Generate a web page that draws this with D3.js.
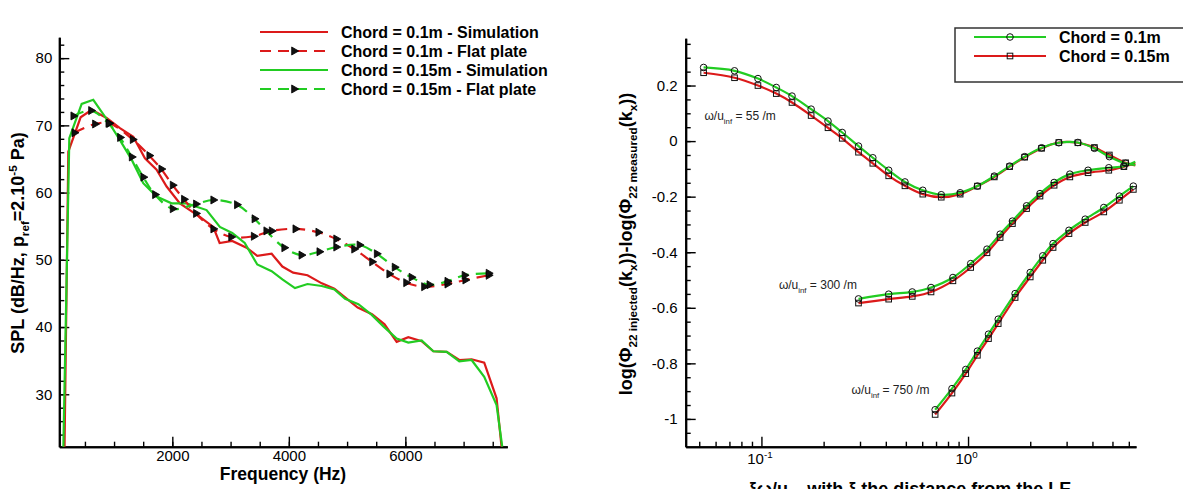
<!DOCTYPE html>
<html>
<head>
<meta charset="utf-8">
<script src="https://cdn.jsdelivr.net/npm/d3@7"></script>
<style>
  body { margin: 0; background: #fff; }
  text { font-family: "Liberation Sans", Arial, Helvetica, sans-serif; }
</style>
</head>
<body>
<div id="chart"></div>
<script>
// ---------- left panel: SPL spectra ----------
var freqSim01  = [150, 215, 426, 615, 872, 1101, 1330, 1530, 1730, 1902, 2130, 2473, 2702, 2812, 3028, 3274, 3458, 3705, 3889, 4074, 4320, 4566, 4782, 4966, 5182, 5428, 5643, 5851, 6051, 6280, 6480, 6709, 6926, 7137, 7354, 7566, 7651];
var splSim01   = [22.2, 66.1, 71.2, 72.3, 71.1, 69.6, 68.3, 65.1, 63.4, 60.9, 58.4, 56.4, 54.9, 52.5, 52.8, 51.8, 50.6, 50.9, 49.0, 48.1, 47.7, 46.5, 45.7, 44.4, 42.9, 41.9, 40.4, 37.8, 38.5, 37.9, 36.4, 36.3, 35.1, 35.2, 34.7, 29.4, 22.2];
var freqSim015 = [130, 232, 444, 643, 884, 1101, 1302, 1501, 1730, 1987, 2245, 2588, 2816, 3028, 3243, 3458, 3705, 3889, 4105, 4320, 4566, 4782, 4966, 5194, 5423, 5623, 5851, 6051, 6280, 6480, 6709, 6926, 7137, 7354, 7566, 7663];
var splSim015  = [22.2, 68.1, 73.2, 73.8, 70.8, 67.8, 64.9, 61.4, 59.4, 58.4, 58.4, 57.4, 54.9, 54.0, 52.5, 49.3, 48.3, 47.1, 45.8, 46.4, 46.1, 45.6, 44.2, 43.4, 41.8, 40.1, 38.3, 37.7, 38.0, 36.4, 36.3, 34.9, 35.1, 32.6, 28.4, 22.2];
var freqFlat01 = [318, 672, 918, 1319, 1604, 1810, 2005, 2199, 2405, 2702, 3009, 3397, 3705, 4111, 4505, 4812, 5120, 5428, 5723, 6012, 6320, 6720, 7028, 7428];
var splFlat01  = [68.9, 70.2, 70.3, 67.9, 65.5, 63.5, 61.1, 59.0, 56.9, 54.6, 53.4, 53.5, 54.3, 54.6, 54.1, 53.1, 51.6, 49.7, 47.9, 46.6, 46.0, 46.4, 47.0, 47.7];
var freqFlat015 = [300, 604, 901, 1101, 1302, 1501, 1702, 2005, 2405, 2702, 3108, 3409, 3612, 3920, 4215, 4523, 4812, 5212, 5508, 5815, 6105, 6412, 6720, 7015, 7428];
var splFlat015  = [71.4, 72.2, 70.3, 68.2, 65.3, 62.3, 59.7, 57.6, 58.3, 58.9, 58.2, 56.1, 54.3, 51.8, 50.7, 51.2, 51.9, 52.2, 50.9, 48.9, 47.4, 46.3, 46.8, 47.7, 48.0];
var leftLegend = ["Chord = 0.1m - Simulation", "Chord = 0.1m - Flat plate", "Chord = 0.15m - Simulation", "Chord = 0.15m - Flat plate"];
var leftXTicks = [2000, 4000, 6000];
var leftYTicks = [30, 40, 50, 60, 70, 80];

// ---------- right panel: log ratio vs xi*omega/u ----------
var xi55   = [0.0525, 0.0741, 0.0962, 0.118, 0.1406, 0.174, 0.210, 0.246, 0.295, 0.346, 0.413, 0.495, 0.604, 0.742, 0.916, 1.11, 1.34, 1.59, 1.88, 2.27, 2.75, 3.40, 4.09, 4.83, 5.79, 6.45];
var c01_55  = [0.265, 0.253, 0.225, 0.193, 0.162, 0.115, 0.072, 0.031, -0.018, -0.060, -0.105, -0.147, -0.177, -0.193, -0.186, -0.162, -0.126, -0.090, -0.056, -0.024, -0.006, -0.005, -0.026, -0.056, -0.080, -0.086];
var c015_55 = [0.246, 0.228, 0.200, 0.171, 0.139, 0.092, 0.048, 0.010, -0.040, -0.080, -0.125, -0.161, -0.191, -0.202, -0.191, -0.162, -0.129, -0.092, -0.058, -0.026, -0.005, -0.006, -0.023, -0.050, -0.078, -0.088];
var xi300   = [0.295, 0.413, 0.537, 0.662, 0.845, 1.03, 1.235, 1.43, 1.64, 1.92, 2.23, 2.61, 3.11, 3.81, 4.80, 5.68, 6.45];
var c01_300  = [-0.568, -0.551, -0.543, -0.527, -0.491, -0.441, -0.389, -0.335, -0.288, -0.233, -0.189, -0.149, -0.119, -0.105, -0.096, -0.090, -0.074];
var c015_300 = [-0.583, -0.569, -0.559, -0.543, -0.503, -0.455, -0.402, -0.347, -0.297, -0.243, -0.198, -0.159, -0.129, -0.114, -0.105, -0.092, -0.080];
var xi750   = [0.693, 0.836, 0.975, 1.11, 1.256, 1.40, 1.69, 2.00, 2.30, 2.58, 3.08, 3.69, 4.54, 5.40, 6.31];
var c01_750  = [-0.967, -0.891, -0.822, -0.756, -0.695, -0.641, -0.549, -0.473, -0.413, -0.369, -0.321, -0.281, -0.239, -0.198, -0.162];
var c015_750 = [-0.984, -0.907, -0.837, -0.771, -0.711, -0.657, -0.563, -0.489, -0.429, -0.383, -0.333, -0.293, -0.255, -0.213, -0.174];
var rightLegend = ["Chord = 0.1m", "Chord = 0.15m"];
var rightYTicks = [-1, -0.8, -0.6, -0.4, -0.2, 0, 0.2];
var rightXTicks = [0.1, 1];
var omegaLabels = ["55", "300", "750"];
var omegaLabelPos = [[0.053, 0.075], [0.1215, -0.533], [0.273, -0.911]];

var RED = "#dc1a1a", GREEN = "#22cc22";

var svg = d3.select("#chart").append("svg")
    .attr("width", 1183)
    .attr("height", 489);

// small helper for sub/superscripts
function rich(sel, parts, fs) {
  var shift = 0;
  parts.forEach(function(p) {
    var target = p[1] === "sub" ? fs * 0.3 : (p[1] === "sup" ? -fs * 0.4 : 0);
    var t = sel.append("tspan").text(p[0]).attr("dy", target - shift);
    if (p[1]) t.attr("font-size", fs * 0.65);
    shift = target;
  });
}

function styleAxis(g, fs) {
  g.attr("font-size", fs).attr("font-family", "Liberation Sans, Arial, sans-serif");
  g.select(".domain").attr("stroke-width", 2).attr("stroke", "#000");
  g.selectAll(".tick line").attr("stroke-width", 1.4).attr("stroke", "#000");
  g.selectAll(".tick text").attr("fill", "#000");
}

// =============== LEFT PANEL ===============
var xL = d3.scaleLinear().domain([60, 7750]).range([59.3, 507.3]);
var yL = d3.scaleLinear().domain([22.2, 83.1]).range([446.7, 37.3]);

// minor ticks
svg.append("g").attr("transform", "translate(0,446.7)")
  .call(d3.axisBottom(xL).tickValues(d3.range(500, 7600, 500)).tickSize(-5).tickSizeOuter(0).tickFormat(""))
  .call(styleAxis, 15);
svg.append("g").attr("transform", "translate(59.3,0)")
  .call(d3.axisLeft(yL).tickValues(d3.range(24, 83, 2)).tickSize(-5).tickSizeOuter(0).tickFormat(""))
  .call(styleAxis, 15);
// major ticks
svg.append("g").attr("transform", "translate(0,446.7)")
  .call(d3.axisBottom(xL).tickValues(leftXTicks).tickSize(-10).tickSizeOuter(0).tickPadding(4).tickFormat(d3.format("d")))
  .call(styleAxis, 15);
svg.append("g").attr("transform", "translate(59.3,0)")
  .call(d3.axisLeft(yL).tickValues(leftYTicks).tickSize(-10).tickSizeOuter(0).tickPadding(7).tickFormat(d3.format("d")))
  .call(styleAxis, 15);

var lineL = d3.line().x(function(d) { return xL(d[0]); }).y(function(d) { return yL(d[1]); });
var lineLs = d3.line().curve(d3.curveCatmullRom.alpha(0.5))
  .x(function(d) { return xL(d[0]); }).y(function(d) { return yL(d[1]); });

var leftSeries = [
  {f: freqSim01,  s: splSim01,  color: RED,   dash: null,   mark: false},
  {f: freqSim015, s: splSim015, color: GREEN, dash: null,   mark: false},
  {f: freqFlat01, s: splFlat01, color: RED,   dash: "11,7", mark: true},
  {f: freqFlat015, s: splFlat015, color: GREEN, dash: "11,7", mark: true}
];
var tri = d3.symbol().type(d3.symbolTriangle).size(28);

leftSeries.forEach(function(se) {
  var pts = se.f.map(function(f, i) { return [f, se.s[i]]; });
  svg.append("path")
    .attr("d", se.mark ? lineLs(pts) : lineL(pts))
    .attr("fill", "none")
    .attr("stroke", se.color)
    .attr("stroke-width", 2.2)
    .attr("stroke-dasharray", se.dash);
});
leftSeries.forEach(function(se) {
  if (!se.mark) return;
  svg.selectAll(null).data(se.f.map(function(f, i) { return [f, se.s[i]]; }))
    .enter().append("path")
    .attr("d", tri)
    .attr("transform", function(d) { return "translate(" + xL(d[0]) + "," + yL(d[1]) + ") rotate(90)"; })
    .attr("fill", "#111")
    .attr("stroke", "#000")
    .attr("stroke-width", 0.8);
});

// left legend
var legL = svg.append("g");
var legStyle = [[RED, null], [RED, "11,7"], [GREEN, null], [GREEN, "11,7"]];
leftLegend.forEach(function(name, i) {
  var y = 32 + i * 19;
  legL.append("line").attr("x1", 260).attr("x2", 328).attr("y1", y).attr("y2", y)
    .attr("stroke", legStyle[i][0]).attr("stroke-width", 2.2)
    .attr("stroke-dasharray", legStyle[i][1]);
  if (legStyle[i][1]) {
    legL.append("path").attr("d", tri)
      .attr("transform", "translate(294," + y + ") rotate(90)")
      .attr("fill", "#111").attr("stroke", "#000").attr("stroke-width", 0.8);
  }
  legL.append("text").attr("x", 341).attr("y", y + 5.5)
    .attr("font-size", 16).attr("font-weight", "bold").text(name);
});

// left titles
svg.append("text").attr("x", 283).attr("y", 480).attr("text-anchor", "middle")
  .attr("font-size", 17.5).attr("font-weight", "bold").text("Frequency (Hz)");
var tL = svg.append("text").attr("transform", "translate(24,243) rotate(-90)")
  .attr("text-anchor", "middle").attr("font-size", 18).attr("font-weight", "bold");
rich(tL, [["SPL (dB/Hz, p", ""], ["ref", "sub"], ["=2.10", ""], ["-5", "sup"], [" Pa)", ""]], 18);

// =============== RIGHT PANEL ===============
var xR = d3.scaleLog().domain([0.043, 6.5]).range([685.7, 1136]);
var yR = d3.scaleLinear().domain([-1.1, 0.37]).range([446.7, 38.3]);

var minorX = [0.05, 0.06, 0.07, 0.08, 0.09, 0.2, 0.3, 0.4, 0.5, 0.6, 0.7, 0.8, 0.9, 2, 3, 4, 5, 6];
svg.append("g").attr("transform", "translate(0,446.7)")
  .call(d3.axisBottom(xR).tickValues(minorX).tickSize(-5).tickSizeOuter(0).tickFormat(""))
  .call(styleAxis, 15);
svg.append("g").attr("transform", "translate(685.7,0)")
  .call(d3.axisLeft(yR).tickValues(d3.range(-21, 8).map(function(k) { return k * 0.05; })).tickSize(-5).tickSizeOuter(0).tickFormat(""))
  .call(styleAxis, 15);

var gxR = svg.append("g").attr("transform", "translate(0,446.7)")
  .call(d3.axisBottom(xR).tickValues(rightXTicks).tickSize(-10).tickSizeOuter(0).tickFormat(""))
  .call(styleAxis, 15);
gxR.selectAll(".tick text").remove();
gxR.selectAll(".tick").each(function(d) {
  var t = d3.select(this).append("text").attr("y", 17).attr("x", -2)
    .attr("fill", "#000").attr("text-anchor", "middle").attr("font-size", 15);
  rich(t, [["10", ""], [String(Math.round(Math.log10(d))), "sup"]], 15);
});
svg.append("g").attr("transform", "translate(685.7,0)")
  .call(d3.axisLeft(yR).tickValues(rightYTicks).tickSize(-10).tickSizeOuter(0).tickPadding(8)
    .tickFormat(function(d) { return String(+d.toFixed(1)); }))
  .call(styleAxis, 15);

var lineR = d3.line().curve(d3.curveCatmullRom.alpha(0.5))
  .x(function(d) { return xR(d[0]); }).y(function(d) { return yR(d[1]); });

var rightSeries = [
  {x: xi55,  y: c015_55,  color: RED,   sym: "sq", tail: true},
  {x: xi300, y: c015_300, color: RED,   sym: "sq", tail: true},
  {x: xi750, y: c015_750, color: RED,   sym: "sq", tail: false},
  {x: xi55,  y: c01_55,   color: GREEN, sym: "ci", tail: true},
  {x: xi300, y: c01_300,  color: GREEN, sym: "ci", tail: true},
  {x: xi750, y: c01_750,  color: GREEN, sym: "ci", tail: false}
];
rightSeries.forEach(function(se) {
  var pts = se.x.map(function(x, i) { return [x, se.y[i]]; });
  svg.append("path").attr("d", lineR(pts)).attr("fill", "none")
    .attr("stroke", se.color).attr("stroke-width", 2.2);
});
rightSeries.forEach(function(se) {
  var pts = se.x.map(function(x, i) { return [x, se.y[i]]; });
  if (se.tail) pts = pts.slice(0, -1);
  if (se.sym === "ci") {
    svg.selectAll(null).data(pts).enter().append("circle")
      .attr("cx", function(d) { return xR(d[0]); }).attr("cy", function(d) { return yR(d[1]); })
      .attr("r", 3.3).attr("fill", "none").attr("stroke", "#111").attr("stroke-width", 1);
  } else {
    svg.selectAll(null).data(pts).enter().append("rect")
      .attr("x", function(d) { return xR(d[0]) - 2.8; }).attr("y", function(d) { return yR(d[1]) - 2.8; })
      .attr("width", 5.6).attr("height", 5.6).attr("fill", "none").attr("stroke", "#111").attr("stroke-width", 1);
  }
});

// frequency annotations
omegaLabels.forEach(function(v, i) {
  var t = svg.append("text").attr("x", xR(omegaLabelPos[i][0])).attr("y", yR(omegaLabelPos[i][1]))
    .attr("font-size", 12).attr("fill", "#222");
  rich(t, [["\u03c9/u", ""], ["inf", "sub"], [" = " + v + " /m", ""]], 12);
});

// right legend
var legR = svg.append("g");
legR.append("rect").attr("x", 955).attr("y", 28).attr("width", 260).attr("height", 54)
  .attr("fill", "#fff").attr("stroke", "#333").attr("stroke-width", 1.5);
[[GREEN, "ci"], [RED, "sq"]].forEach(function(st, i) {
  var y = 37 + i * 19;
  legR.append("line").attr("x1", 974).attr("x2", 1046).attr("y1", y).attr("y2", y)
    .attr("stroke", st[0]).attr("stroke-width", 2.2);
  if (st[1] === "ci") {
    legR.append("circle").attr("cx", 1010).attr("cy", y).attr("r", 3.3)
      .attr("fill", "none").attr("stroke", "#111").attr("stroke-width", 1);
  } else {
    legR.append("rect").attr("x", 1007.2).attr("y", y - 2.8).attr("width", 5.6).attr("height", 5.6)
      .attr("fill", "none").attr("stroke", "#111").attr("stroke-width", 1);
  }
  legR.append("text").attr("x", 1059).attr("y", y + 5.5).attr("font-size", 16)
    .attr("font-weight", "bold").text(rightLegend[i]);
});

// right titles
var tRx = svg.append("text").attr("x", 910).attr("y", 495).attr("text-anchor", "middle")
  .attr("font-size", 18).attr("font-weight", "bold");
rich(tRx, [["\u03be\u03c9/u", ""], ["inf", "sub"], [" with \u03be the distance from the LE", ""]], 18);
var tRy = svg.append("text").attr("transform", "translate(632,244) rotate(-90)")
  .attr("text-anchor", "middle").attr("font-size", 18).attr("font-weight", "bold");
rich(tRy, [["log(\u03a6", ""], ["22 injected", "sub"], ["(k", ""], ["x", "sub"], ["))-log(\u03a6", ""],
           ["22 measured", "sub"], ["(k", ""], ["x", "sub"], ["))", ""]], 18);
</script>
</body>
</html>
